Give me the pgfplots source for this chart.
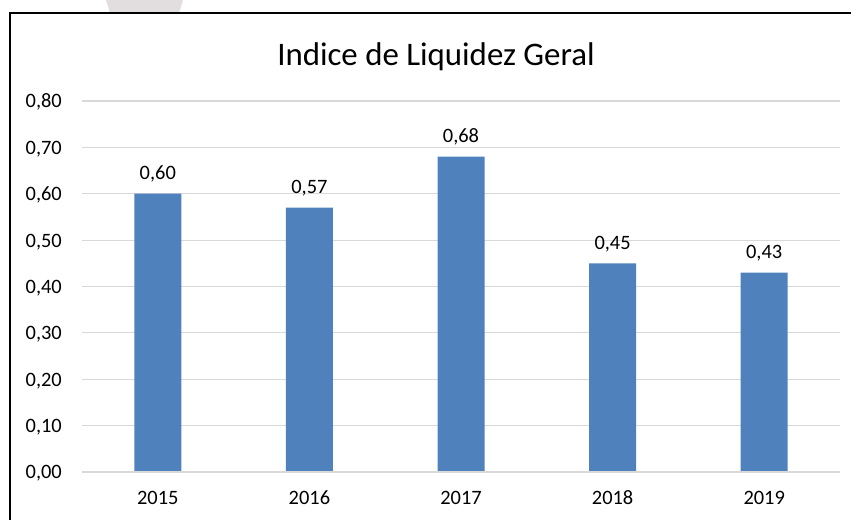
\documentclass[border=0pt]{standalone}
\usepackage{pgfplots}
\pgfplotsset{compat=1.18}
\usepackage{fontspec}
\setmainfont{Carlito}
\definecolor{barblue}{HTML}{4F81BD}
\definecolor{gridgray}{HTML}{D9D9D9}
\definecolor{wmgray}{HTML}{E2DEDF}
\begin{document}
\begin{tikzpicture}[x=1bp,y=1bp]
\useasboundingbox (0,0) rectangle (851,520);
\fill[wmgray] (106,520) -- (183,520) -- (179,507) -- (110,507) -- cycle;
\draw[line width=2bp,black] (10,0) -- (10,507) -- (851,507);
\node[anchor=base, inner sep=0, font=\fontsize{33}{38}\selectfont] at (436,454) {Indice de Liquidez Geral};
\begin{axis}[
  at={(82bp,48bp)}, anchor=south west,
  scale only axis, width=758bp, height=371bp,
  ymin=0, ymax=0.8, xmin=-0.5, xmax=4.5,
  ytick={0,0.1,...,0.8},
  xtick=data, xticklabels={2015,2016,2017,2018,2019},
  axis line style={draw=none},
  ymajorgrids, grid style={gridgray, line width=1.2bp},
  major tick length=0pt,
  /pgf/number format/assume math mode=true,
  /pgf/number format/.cd, use comma, fixed, fixed zerofill, precision=2, /pgfplots/.cd,
  ticklabel style={font=\fontsize{20.5}{24}\selectfont, text=black, inner sep=0pt},
  yticklabel style={anchor=base east, xshift=-20bp, yshift=-7bp},
  xticklabel style={anchor=base, yshift=-33bp},
  nodes near coords,
  nodes near coords style={font=\fontsize{20.5}{24}\selectfont, text=black, inner sep=0pt, anchor=base, yshift=14bp, /pgf/number format/.cd, use comma, fixed, fixed zerofill, precision=2, assume math mode=true, /pgfplots/.cd},
  clip=false,
]
\addplot[ybar, bar width=47bp, fill=barblue, draw=none] coordinates {(0,0.60) (1,0.57) (2,0.68) (3,0.45) (4,0.43)};
\draw[gridgray, line width=1.2bp] (axis cs:-0.5,0) -- (axis cs:4.5,0);
\end{axis}
\end{tikzpicture}
\end{document}
